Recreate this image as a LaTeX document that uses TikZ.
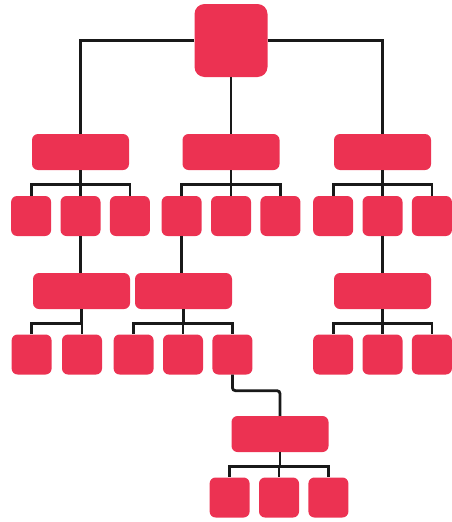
\documentclass[tikz,border=0pt]{standalone}
\usetikzlibrary{positioning}
\definecolor{OrgRed}{HTML}{EC3252}

\begin{document}
\begin{tikzpicture}[
  x=1pt,y=-1pt,
  node distance=9pt,
  unit/.style={fill=OrgRed,rounded corners=6pt,inner sep=0pt,
    minimum width=40pt,minimum height=40pt},
  dept/.style={unit,minimum width=97pt,minimum height=36pt},
  chief/.style={unit,minimum width=73pt,minimum height=73pt,rounded corners=10pt},
  link/.style={line width=2.8pt,color=black!90},
  fork/.style={to path={-- ++(0,-14pt) -| (\tikztotarget)}}
]
\useasboundingbox (0,0) rectangle (452,522);

% head and first row
\node[chief] (head) at (231,40.5) {};
\node[dept] (deptA) at (80.5,152) {};
\node[dept] (deptB) at (231,152) {};
\node[dept] (deptC) at (382.5,152) {};

% units under each department
\node[unit] (a2) at (80.5,216) {};
\node[unit,left=of a2] (a1) {};
\node[unit,right=of a2] (a3) {};
\node[unit] (b2) at (231,216) {};
\node[unit,left=of b2] (b1) {};
\node[unit,right=of b2] (b3) {};
\node[unit] (c2) at (382.5,216) {};
\node[unit,left=of c2] (c1) {};
\node[unit,right=of c2] (c3) {};

% second row of departments
\node[dept] (subA) at (81.5,291) {};
\node[dept] (subB) at (183.5,291) {};
\node[dept] (subC) at (382.5,291) {};

\node[unit] (sa2) at (82,354.5) {};
\node[unit,left=10pt of sa2] (sa1) {};
\node[unit] (sb2) at (183,354.5) {};
\node[unit,left=of sb2] (sb1) {};
\node[unit,right=of sb2] (sb3) {};
\node[unit] (sc2) at (382.5,354.5) {};
\node[unit,left=of sc2] (sc1) {};
\node[unit,right=of sc2] (sc3) {};

% last branch
\node[dept] (team) at (280,434) {};
\node[unit] (t2) at (279,497.5) {};
\node[unit,left=of t2] (t1) {};
\node[unit,right=of t2] (t3) {};

% connectors
\draw[link] (head.west) -| (deptA.north);
\draw[link] (head.east) -| (deptC.north);
\draw[link] (head.south) -- (deptB.north);

\draw[link] (deptA.south) edge[fork] (a1.north) edge[fork] (a2.north) edge[fork] (a3.north);
\draw[link] (deptB.south) edge[fork] (b1.north) edge[fork] (b2.north) edge[fork] (b3.north);
\draw[link] (deptC.south) edge[fork] (c1.north) edge[fork] (c2.north) edge[fork] (c3.north);

\draw[link] (a2.south) -- (a2.south |- subA.north);
\draw[link] (b1.south) -- (b1.south |- subB.north);
\draw[link] (c2.south) -- (c2.south |- subC.north);

\draw[link] (subA.south) edge[fork] (sa1.north) edge[fork] (sa2.north);
\draw[link] (subB.south) edge[fork] (sb1.north) edge[fork] (sb2.north) edge[fork] (sb3.north);
\draw[link] (subC.south) edge[fork] (sc1.north) edge[fork] (sc2.north) edge[fork] (sc3.north);

\draw[link,rounded corners=3pt] (sb3.south) -- ++(0,-16pt) -| (team.north);
\draw[link] (team.south) edge[fork] (t1.north) edge[fork] (t2.north) edge[fork] (t3.north);
\end{tikzpicture}
\end{document}
